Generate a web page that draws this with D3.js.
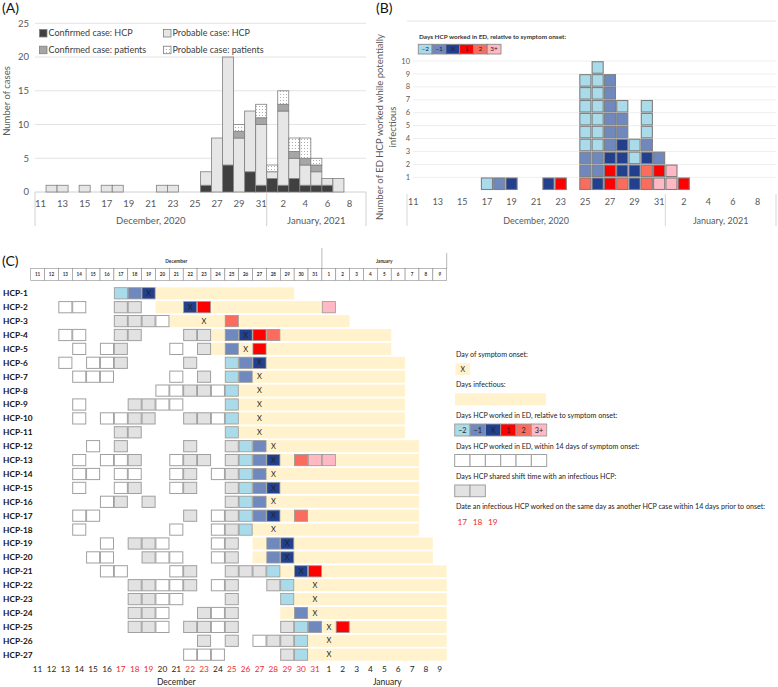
<!DOCTYPE html>
<html><head><meta charset="utf-8">
<script src="https://cdn.jsdelivr.net/npm/d3@7"></script>
<style>
body{margin:0;background:#fff}
text{font-family:Lato,"Open Sans","Liberation Sans",sans-serif}
</style>
</head><body>
<svg id="c" width="778" height="687"></svg>
<script>
// ---------- shared categories ----------
const dayKeys = ["D11","D12","D13","D14","D15","D16","D17","D18","D19","D20","D21","D22","D23","D24","D25","D26","D27","D28","D29","D30","D31","J1","J2","J3","J4","J5","J6","J7","J8","J9"];
const dayLabels = ["11","12","13","14","15","16","17","18","19","20","21","22","23","24","25","26","27","28","29","30","31","1","2","3","4","5","6","7","8","9"];
const tickKeys = ["D11","D13","D15","D17","D19","D21","D23","D25","D27","D29","D31","J2","J4","J6","J8"];
const monthNamesAB = ["December, 2020","January, 2021"];
const monthNamesC = ["December","January"];

// ---------- panel A ----------
const aDays = ["D12","D13","D15","D17","D18","D22","D23","D26","D27","D28","D29","D30","D31","J1","J2","J3","J4","J5","J6","J7"];
const aConfirmedHCP      = [0,0,0,0,0,0,0,1,0,4,0,3,1,2,1,2,1,1,1,0];
const aProbableHCP       = [1,1,1,1,1,1,1,2,8,16,8,9,9,1,11,3,3,2,1,2];
const aConfirmedPatients = [0,0,0,0,0,0,0,0,0,0,1,0,1,0,1,1,1,1,0,0];
const aProbablePatients  = [0,0,0,0,0,0,0,0,0,0,1,0,2,1,2,2,3,1,0,0];
const aSeriesNames = ["Confirmed case: HCP","Probable case: HCP","Confirmed case: patients","Probable case: patients"];
const aYTicks = [0,5,10,15,20,25];

// ---------- panel B ----------
const relCats   = ["-2","-1","X","1","2","3+"];
const relLabels = ["\u22122","\u22121","X","1","2","3+"];
const relColors = ["#a9dbeb","#6f88be","#22408d","#ff0000","#f96c5e","#ffb8c4"];
const bDays = ["D17","D18","D19","D22","D23","D25","D26","D27","D28","D29","D30","D31","J1","J2"];
const bStacks = [
  ["-2"],["-1"],["X"],["X"],["1"],
  ["2","-1","-1","-2","-2","-2","-2","-2","-2"],
  ["X","-1","-1","-2","-2","-2","-2","-2","-2","-2"],
  ["1","1","X","-1","-1","-1","-1","-1","-1"],
  ["2","X","X","X","-1","-1","-2"],
  ["X","X","-2","-2"],
  ["2","2","X","-1","-2","-2","-2"],
  ["3+","1","-1"],
  ["3+","3+"],
  ["1"]
];
const bYTicks = [1,2,3,4,5,6,7,8,9,10];

// ---------- panel C ----------
const hcpNames = ["HCP-1","HCP-2","HCP-3","HCP-4","HCP-5","HCP-6","HCP-7","HCP-8","HCP-9","HCP-10","HCP-11","HCP-12","HCP-13","HCP-14","HCP-15","HCP-16","HCP-17","HCP-18","HCP-19","HCP-20","HCP-21","HCP-22","HCP-23","HCP-24","HCP-25","HCP-26","HCP-27"];
const hcpOnset = ["D19","D22","D23","D26","D26","D27","D27","D27","D27","D27","D27","D28","D28","D28","D28","D28","D28","D28","D29","D29","D30","D31","D31","D31","J1","J1","J1"];
const hcpInfStart = ["D17","D20","D21","D24","D24","D25","D25","D25","D25","D25","D25","D26","D26","D26","D26","D26","D26","D26","D27","D27","D28","D29","D29","D29","D30","D30","D30"];
const hcpInfEnd = ["D29","J1","J2","J5","J5","J6","J6","J6","J6","J6","J6","J7","J7","J7","J7","J7","J7","J7","J8","J8","J9","J9","J9","J9","J9","J9","J9"];
const hcpWhite = [
  [],["D13","D14"],["D20"],["D13","D14"],["D14","D16","D21"],["D13","D15","D16"],
  ["D14","D15","D16","D21"],["D20","D21","D24"],["D14","D20","D21"],["D14","D16","D17","D24"],[],
  ["D15"],["D14","D16","D17","D21"],["D14","D15","D17","D18","D21","D24"],["D14","D17","D21"],["D16"],
  ["D14","D15","D24"],["D14","D21","D24"],["D16","D20","D24"],["D15","D16","D20","D21","D24"],
  ["D16","D17","D21"],["D20","D21","D24"],["D20","D21"],["D20","D24"],["D20","D24"],["D27"],["D22","D23","D24"]
];
const hcpGray = [
  [],["D17","D18"],["D17","D18","D19"],["D17","D18","D22","D23"],["D17","D23"],["D17","D22"],
  ["D23"],["D22","D23"],["D18","D19"],["D18","D19","D22","D23"],["D17","D18"],
  ["D17","D22","D25"],["D18","D22","D23","D25"],["D22","D25"],["D18","D22","D25"],["D17","D19","D25"],
  ["D22","D25"],["D25"],["D18","D19","D25"],["D19","D25"],
  ["D22","D25","D26","D27"],["D18","D19","D22","D25","D28"],["D18","D19","D25"],["D18","D19","D23","D25"],
  ["D18","D19","D22","D23","D25","D29"],["D23","D25","D28","D29"],["D29"]
];
const hcpWorked = [
  [["D17","-2"],["D18","-1"],["D19","X"]],
  [["D22","X"],["D23","1"],["J1","3+"]],
  [["D25","2"]],
  [["D25","-1"],["D26","X"],["D27","1"],["D28","2"]],
  [["D25","-1"],["D27","1"]],
  [["D25","-2"],["D26","-1"],["D27","X"]],
  [["D25","-2"],["D26","-1"]],
  [["D25","-2"]],[["D25","-2"]],[["D25","-2"]],[["D25","-2"]],
  [["D26","-2"],["D27","-1"]],
  [["D26","-2"],["D27","-1"],["D28","X"],["D30","2"],["D31","3+"],["J1","3+"]],
  [["D26","-2"],["D27","-1"]],
  [["D26","-2"],["D27","-1"],["D28","X"]],
  [["D26","-2"],["D27","-1"]],
  [["D26","-2"],["D27","-1"],["D28","X"],["D30","2"]],
  [["D26","-2"]],
  [["D28","-1"],["D29","X"]],
  [["D28","-1"],["D29","X"]],
  [["D28","-2"],["D30","X"],["D31","1"]],
  [["D29","-2"]],[["D29","-2"]],[["D30","-1"]],
  [["D30","-2"],["D31","-1"],["J2","1"]],
  [["D30","-2"]],[["D30","-2"]]
];
const cRedDays = ["D17","D18","D19","D22","D23","D25","D26","D27","D28","D29","D30","D31"];
const cLegendTexts = ["Day of symptom onset:","Days infectious:","Days HCP worked in ED, relative to symptom onset:","Days HCP worked in ED, within 14 days of symptom onset:","Days HCP shared shift time with an infectious HCP:","Date an infectious HCP worked on the same day as another HCP case within 14 days prior to onset:"];
const cLegendRed = ["17","18","19"];

// ================= drawing =================
const svg = d3.select("#c");
const lab = k => dayLabels[dayKeys.indexOf(k)];
const relColor = d3.scaleOrdinal(relCats, relColors);
const relLab = d3.scaleOrdinal(relCats, relLabels);
const axisGrey = "#595959";
const CREAM = "#fff2cc", GREYFILL = "#e2e2e2", CELLSTROKE = "#a0a0a0";

const defs = svg.append("defs");
const pat = defs.append("pattern").attr("id","dots").attr("width",3).attr("height",3).attr("patternUnits","userSpaceOnUse");
pat.append("rect").attr("width",3).attr("height",3).attr("fill","#fff");
pat.append("rect").attr("x",1).attr("y",1).attr("width",1).attr("height",1).attr("fill","#b0b0b0");

// panel labels
svg.append("text").attr("x",2).attr("y",13).attr("font-size",14).attr("fill","#111").text("(A)");
svg.append("text").attr("x",376).attr("y",13).attr("font-size",14).attr("fill","#111").text("(B)");
svg.append("text").attr("x",2).attr("y",266).attr("font-size",14).attr("fill","#111").text("(C)");

// ---------- Panel A ----------
{
  const x = d3.scaleBand(dayKeys,[35,366]).padding(0);
  const y = d3.scaleLinear([0,25],[192,23.3]);
  const g = svg.append("g");
  g.selectAll(".grid").data(aYTicks.filter(v=>v>0)).join("line")
    .attr("x1",35).attr("x2",366).attr("y1",d=>y(d)).attr("y2",d=>y(d)).attr("stroke","#e3e3e3");
  g.append("line").attr("x1",35).attr("x2",366).attr("y1",y(0)).attr("y2",y(0)).attr("stroke","#d0d0d0");
  g.selectAll(".yt").data(aYTicks).join("text").attr("x",29).attr("y",d=>y(d)).attr("dy","0.35em")
    .attr("text-anchor","end").attr("font-size",9.5).attr("fill",axisGrey).text(d=>d);
  g.append("text").attr("transform",`translate(7,101) rotate(-90)`).attr("text-anchor","middle")
    .attr("dy","0.35em").attr("font-size",9.5).attr("fill",axisGrey).text("Number of cases");
  const rows = aDays.map((d,i)=>({day:d,s0:aConfirmedHCP[i],s1:aProbableHCP[i],s2:aConfirmedPatients[i],s3:aProbablePatients[i]}));
  const stack = d3.stack().keys(["s0","s1","s2","s3"])(rows);
  const fills = ["#404040","#e6e6e6","#a6a6a6","url(#dots)"];
  stack.forEach((ser,si)=>{
    g.selectAll(".b"+si).data(ser.filter(d=>d[1]>d[0])).join("rect")
      .attr("x",d=>x(d.data.day)).attr("width",x.bandwidth())
      .attr("y",d=>y(d[1])).attr("height",d=>y(d[0])-y(d[1]))
      .attr("fill",fills[si]).attr("stroke","#7f7f7f").attr("stroke-width",0.8);
  });
  g.selectAll(".xt").data(tickKeys).join("text").attr("x",d=>x(d)+x.bandwidth()/2).attr("y",204).attr("dy","0.35em")
    .attr("text-anchor","middle").attr("font-size",9.5).attr("fill",axisGrey).text(d=>lab(d));
  const xs = [x.range()[0], x("J1"), x.range()[1]];
  g.selectAll(".vl").data(xs).join("line").attr("x1",d=>d).attr("x2",d=>d).attr("y1",192).attr("y2",226).attr("stroke","#d0d0d0");
  g.append("text").attr("x",(xs[0]+xs[1])/2).attr("y",221).attr("dy","0.35em").attr("text-anchor","middle").attr("font-size",9.5).attr("fill",axisGrey).text(monthNamesAB[0]);
  g.append("text").attr("x",(xs[1]+xs[2])/2).attr("y",221).attr("dy","0.35em").attr("text-anchor","middle").attr("font-size",9.5).attr("fill",axisGrey).text(monthNamesAB[1]);
  // legend: series -> (col,row)
  const lx = [39.5,163.5], ly = [33.3,50];
  const seriesPos = [[lx[0],ly[0]],[lx[1],ly[0]],[lx[0],ly[1]],[lx[1],ly[1]]];
  aSeriesNames.forEach((n,i)=>{
    const [px,py]=seriesPos[i];
    g.append("rect").attr("x",px).attr("y",py-3.8).attr("width",7.5).attr("height",7.5).attr("fill",fills[i]).attr("stroke","#7f7f7f").attr("stroke-width",0.8);
    g.append("text").attr("x",px+9).attr("y",py).attr("dy","0.35em").attr("font-size",9).attr("fill","#404040").text(n);
  });
}

// ---------- Panel B ----------
{
  const x = d3.scaleBand(dayKeys,[407,776]).paddingInner(0.1).paddingOuter(0.05);
  const xf = d3.scaleBand(dayKeys,[407,776]).padding(0);
  const y = d3.scaleLinear([0,13.1],[190.2,21]);
  const g = svg.append("g");
  g.append("line").attr("x1",407).attr("x2",776).attr("y1",y(13.1)).attr("y2",y(13.1)).attr("stroke","#e6e6e6");
  g.selectAll(".grid").data(bYTicks).join("line").attr("x1",413).attr("x2",776)
    .attr("y1",d=>y(d)).attr("y2",d=>y(d)).attr("stroke","#eeeeee");
  g.selectAll(".yt").data(bYTicks).join("text").attr("x",410).attr("y",d=>y(d)).attr("dy","0.35em")
    .attr("text-anchor","end").attr("font-size",7.5).attr("fill",axisGrey).text(d=>d);
  const unit = y(0)-y(1);
  const cells = [];
  bDays.forEach((d,i)=>bStacks[i].forEach((c,j)=>cells.push({day:d,cat:c,lvl:j})));
  g.selectAll(".sq").data(cells).join("rect")
    .attr("x",d=>x(d.day)).attr("width",x.bandwidth())
    .attr("y",d=>y(d.lvl+1)+0.7).attr("height",unit-1.4)
    .attr("fill",d=>relColor(d.cat)).attr("stroke","#7f7f7f").attr("stroke-width",1.1);
  g.selectAll(".xt").data(tickKeys).join("text").attr("x",d=>xf(d)+xf.bandwidth()/2).attr("y",202).attr("dy","0.35em")
    .attr("text-anchor","middle").attr("font-size",9).attr("fill",axisGrey).text(d=>lab(d));
  const xs = [407, xf("J1"), 776];
  g.selectAll(".vl").data(xs).join("line").attr("x1",d=>d).attr("x2",d=>d).attr("y1",194).attr("y2",226).attr("stroke","#d8d8d8");
  g.append("text").attr("x",(xs[0]+xs[1])/2).attr("y",221).attr("dy","0.35em").attr("text-anchor","middle").attr("font-size",9).attr("fill",axisGrey).text(monthNamesAB[0]);
  g.append("text").attr("x",(xs[1]+xs[2])/2).attr("y",221).attr("dy","0.35em").attr("text-anchor","middle").attr("font-size",9).attr("fill",axisGrey).text(monthNamesAB[1]);
  g.append("text").attr("transform","translate(380,127) rotate(-90)").attr("text-anchor","middle").attr("dy","0.35em")
    .attr("font-size",9.5).attr("fill",axisGrey).text("Number of ED HCP worked while potentially");
  g.append("text").attr("transform","translate(393,127) rotate(-90)").attr("text-anchor","middle").attr("dy","0.35em")
    .attr("font-size",9.5).attr("fill",axisGrey).text("infectious");
  g.append("text").attr("x",419).attr("y",37).attr("dy","0.35em").attr("font-size",6.4).attr("font-weight","bold").attr("fill","#333").text(cLegendTexts[2]);
  const lxs = d3.scaleBand(relCats,[418.3,501]);
  g.selectAll(".lg").data(relCats).join("rect").attr("x",d=>lxs(d)).attr("y",44.3).attr("width",lxs.bandwidth()).attr("height",9.7)
    .attr("fill",d=>relColor(d)).attr("stroke","#8a8a8a").attr("stroke-width",0.9);
  g.selectAll(".lgt").data(relCats).join("text").attr("x",d=>lxs(d)+lxs.bandwidth()/2).attr("y",49.2).attr("dy","0.35em")
    .attr("text-anchor","middle").attr("font-size",6.5).attr("fill","#222").text(d=>relLab(d));
}

// ---------- Panel C ----------
{
  const x = d3.scaleBand(dayKeys,[30.7,446.7]).padding(0);
  const bw = x.bandwidth();
  const y = d3.scalePoint(hcpNames,[293.3,654.7]);
  const ch = 12;
  const g = svg.append("g");
  g.selectAll(".hd").data(dayKeys).join("rect").attr("x",d=>x(d)).attr("y",268.3).attr("width",bw).attr("height",12)
    .attr("fill","#fff").attr("stroke","#8a8a8a").attr("stroke-width",0.6);
  g.selectAll(".hdt").data(dayKeys).join("text").attr("x",d=>x(d)+bw/2).attr("y",274.5).attr("dy","0.35em")
    .attr("text-anchor","middle").attr("font-size",4.6).attr("font-weight","bold").attr("fill","#333").text(d=>lab(d));
  g.append("line").attr("x1",x("J1")).attr("x2",x("J1")).attr("y1",248).attr("y2",268.3).attr("stroke","#8a8a8a").attr("stroke-width",0.6);
  g.append("line").attr("x1",446.7).attr("x2",446.7).attr("y1",253).attr("y2",268.3).attr("stroke","#8a8a8a").attr("stroke-width",0.6);
  g.append("text").attr("x",(x("D11")+x("J1"))/2).attr("y",261.5).attr("dy","0.35em").attr("text-anchor","middle")
    .attr("font-size",4.8).attr("font-weight","bold").attr("fill","#333").text(monthNamesC[0]);
  g.append("text").attr("x",(x("J1")+446.7)/2).attr("y",261.5).attr("dy","0.35em").attr("text-anchor","middle")
    .attr("font-size",4.8).attr("font-weight","bold").attr("fill","#333").text(monthNamesC[1]);
  hcpNames.forEach((n,i)=>{
    const cy = y(n);
    g.append("text").attr("x",3).attr("y",cy).attr("dy","0.35em").attr("font-size",8.3).attr("font-weight","bold").attr("fill","#111").text(n);
    g.append("rect").attr("x",x(hcpInfStart[i])).attr("y",cy-ch/2).attr("width",x(hcpInfEnd[i])+bw-x(hcpInfStart[i])).attr("height",ch).attr("fill",CREAM);
    g.selectAll(null).data(hcpWhite[i]).join("rect").attr("x",d=>x(d)+0.4).attr("y",cy-ch/2+0.4).attr("width",bw-0.8).attr("height",ch-0.8)
      .attr("fill","#fff").attr("stroke",CELLSTROKE).attr("stroke-width",1);
    g.selectAll(null).data(hcpGray[i]).join("rect").attr("x",d=>x(d)+0.4).attr("y",cy-ch/2+0.4).attr("width",bw-0.8).attr("height",ch-0.8)
      .attr("fill",GREYFILL).attr("stroke",CELLSTROKE).attr("stroke-width",1);
    g.selectAll(null).data(hcpWorked[i]).join("rect").attr("x",d=>x(d[0])+0.4).attr("y",cy-ch/2+0.4).attr("width",bw-0.8).attr("height",ch-0.8)
      .attr("fill",d=>relColor(d[1])).attr("stroke","#9a9a9a").attr("stroke-width",0.8);
    g.append("text").attr("x",x(hcpOnset[i])+bw/2).attr("y",cy).attr("dy","0.35em").attr("text-anchor","middle")
      .attr("font-size",7.5).attr("fill","#222").text("X");
  });
  g.selectAll(".bt").data(dayKeys).join("text").attr("x",d=>x(d)+bw/2).attr("y",669).attr("dy","0.35em")
    .attr("text-anchor","middle").attr("font-size",8.3).attr("fill",d=>cRedDays.includes(d)?"#f02b2b":"#222").text(d=>lab(d));
  g.append("text").attr("x",(x("D11")+x("J1"))/2).attr("y",682.5).attr("dy","0.35em").attr("text-anchor","middle").attr("font-size",8.5).attr("fill","#222").text(monthNamesC[0]);
  g.append("text").attr("x",(x("J1")+446.7)/2+3).attr("y",682.5).attr("dy","0.35em").attr("text-anchor","middle").attr("font-size",8.5).attr("fill","#222").text(monthNamesC[1]);

  const L = svg.append("g");
  const lfs = 7.1;
  const ty = [355,385,415.7,446.7,476.7,506.7];
  cLegendTexts.forEach((t,i)=>L.append("text").attr("x",456).attr("y",ty[i]).attr("dy","0.35em").attr("font-size",lfs).attr("fill","#222").text(t));
  L.append("rect").attr("x",455.5).attr("y",363.3).attr("width",14.5).attr("height",11.7).attr("fill",CREAM);
  L.append("text").attr("x",462.7).attr("y",369.2).attr("dy","0.35em").attr("text-anchor","middle").attr("font-size",7).attr("fill","#222").text("X");
  L.append("rect").attr("x",455).attr("y",393.3).attr("width",91).attr("height",12).attr("fill",CREAM);
  const lb = d3.scaleBand(relCats,[454.7,546.7]);
  L.selectAll(".r").data(relCats).join("rect").attr("x",d=>lb(d)).attr("y",424).attr("width",lb.bandwidth()).attr("height",12)
    .attr("fill",d=>relColor(d)).attr("stroke","#9a9a9a").attr("stroke-width",0.9);
  L.selectAll(".rt").data(relCats).join("text").attr("x",d=>lb(d)+lb.bandwidth()/2).attr("y",430).attr("dy","0.35em")
    .attr("text-anchor","middle").attr("font-size",7.3).attr("fill","#222").text(d=>relLab(d));
  L.selectAll(".w").data(relCats).join("rect").attr("x",d=>lb(d)).attr("y",454.5).attr("width",lb.bandwidth()).attr("height",12)
    .attr("fill","#fff").attr("stroke",CELLSTROKE).attr("stroke-width",1);
  L.selectAll(".gr").data(relCats.slice(0,2)).join("rect").attr("x",d=>lb(d)).attr("y",485).attr("width",lb.bandwidth()).attr("height",11.7)
    .attr("fill",GREYFILL).attr("stroke",CELLSTROKE).attr("stroke-width",1);
  const rx = d3.scalePoint(cLegendRed,[462.3,492.7]);
  L.selectAll(".rd").data(cLegendRed).join("text").attr("x",d=>rx(d)).attr("y",521.7).attr("dy","0.35em")
    .attr("text-anchor","middle").attr("font-size",8.3).attr("fill","#f02b2b").text(d=>d);
}
</script>
</body></html>
